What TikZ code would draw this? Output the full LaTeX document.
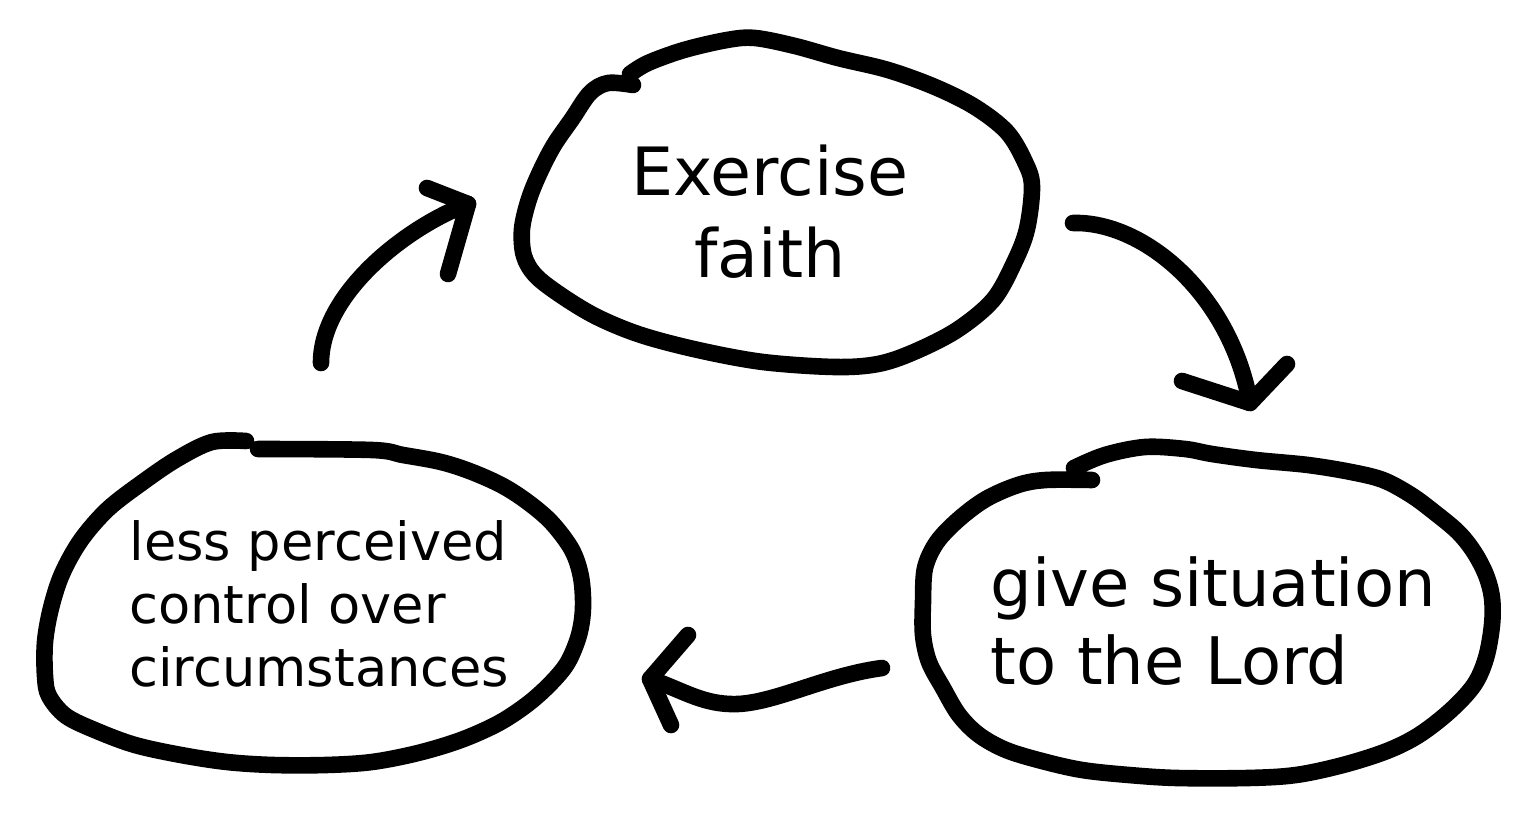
\documentclass[tikz,border=0pt]{standalone}
\usepackage{fontspec}
\setmainfont{DejaVu Sans}
\tikzset{
  pen/.style={line width=8.3pt,line cap=round,line join=round},
  lbl/.style={inner sep=0pt,align=left},
}
\begin{document}
\begin{tikzpicture}[x=0.5pt,y=-0.5pt]
\fill[white] (0,0) rectangle (1532,813);
% texts
\node[lbl,align=center,font=\fontsize{33.3}{41}\selectfont] (faith) at (770,212) {Exercise\\faith};
\node[lbl,anchor=west,font=\fontsize{32.8}{39}\selectfont] (give) at (990,621) {give situation\\to the Lord};
\node[lbl,anchor=west,font=\fontsize{26.3}{31.5}\selectfont] (less) at (129,604) {less perceived\\control over\\circumstances};
% hand drawn outlines
\draw[pen] plot[smooth,tension=0.55] coordinates {(633,85) (608,83) (590,93) (572,119) (554,145)
  (540,172) (529,199) (522,229) (524,256) (536,276) (562,296) (597,317) (641,335) (698,350)
  (763,362) (835,367) (878,364) (914,352) (957,330) (993,300) (1014,263) (1027,229) (1032,186)
  (1025,162) (1007,132) (975,107) (935,87) (888,70) (838,58) (795,46) (755,38) (727,40)
  (684,50) (648,63) (630,74)};
\draw[pen] plot[smooth,tension=0.55] coordinates {(1092,480) (1046,480) (1018,485) (986,499)
  (959,519) (937,542) (925,568) (923,602) (923,635) (929,662) (943,688) (959,715) (979,735)
  (1006,750) (1042,761) (1082,770) (1129,775) (1177,778) (1248,778) (1296,775) (1343,765)
  (1387,751) (1419,735) (1450,711) (1474,685) (1486,658) (1492,625) (1492,598) (1486,575)
  (1474,552) (1458,532) (1434,512) (1411,495) (1383,480) (1351,472) (1308,465) (1256,460)
  (1212,454) (1185,449) (1145,447) (1105,455) (1074,468)};
\draw[pen] plot[smooth,tension=0.55] coordinates {(258,449) (372,450) (403,455) (441,462)
  (472,472) (503,486) (529,503) (552,523) (572,550) (581,577) (583,608) (579,635) (568,662)
  (552,682) (529,703) (499,723) (461,740) (418,753) (372,762) (326,765) (273,765) (227,762)
  (181,755) (135,745) (97,731) (66,716) (49,696) (45,676) (45,642) (51,608) (62,574) (81,540)
  (108,509) (143,482) (177,459) (212,442) (246,441)};
% arrows
\coordinate (less-out) at (321,363);
\coordinate (faith-in) at (468,204);
\coordinate (faith-out) at (1073,223);
\coordinate (give-in) at (1250,403);
\coordinate (give-out) at (882,668);
\coordinate (less-in) at (650,679);
\draw[pen] (less-out) .. controls +(0,-70) and +(-60,22) .. (faith-in);
\draw[pen] (427,188) -- (faith-in) -- (448,274);
\draw[pen] (faith-out) .. controls +(70,-2) and +(-20,-110) .. (give-in);
\draw[pen] (1182,381) -- (give-in) -- (1287,364);
\draw[pen] (give-out) .. controls +(-60,8) and +(40,2) .. (730,704)
  .. controls +(-30,-1) and +(30,10) .. (less-in);
\draw[pen] (688,635) -- (less-in) -- (671,725);
\end{tikzpicture}
\end{document}
